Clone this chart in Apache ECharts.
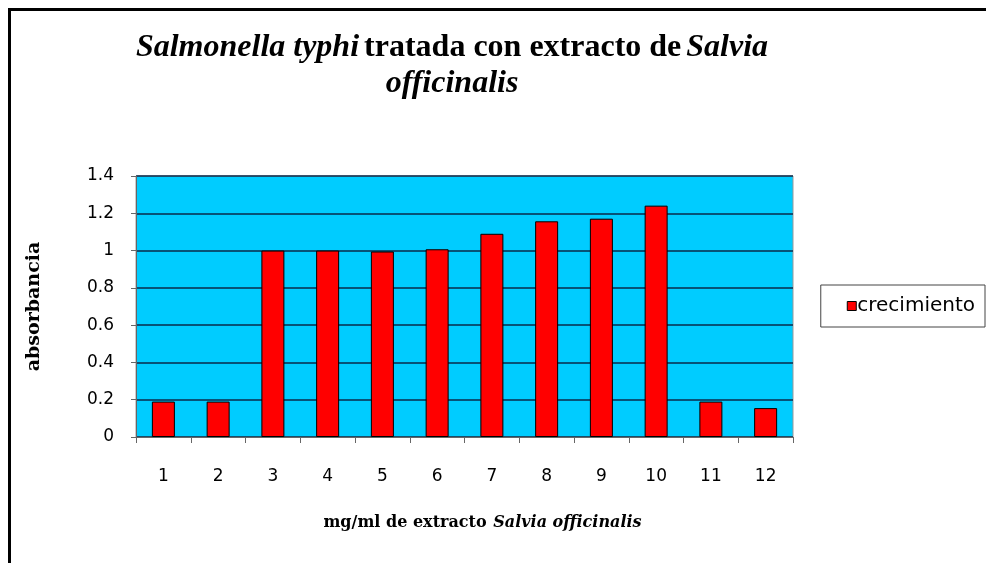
<!DOCTYPE html>
<html>
<head>
<meta charset="utf-8">
<script src="https://cdn.jsdelivr.net/npm/echarts@6/dist/echarts.min.js"></script>
<style>
html,body{margin:0;padding:0;background:#fff;}
#frame{position:absolute;left:8px;top:8px;width:978px;height:555px;border-left:3px solid #000;border-top:3px solid #000;box-sizing:border-box;}
#chart{position:absolute;left:0;top:0;width:986px;height:563px;}
</style>
</head>
<body>
<div id="frame"></div>
<div id="chart"></div>
<script>
const categories = ['1','2','3','4','5','6','7','8','9','10','11','12'];
const crecimiento = [0.19, 0.19, 1.0, 1.0, 0.995, 1.007, 1.09, 1.157, 1.171, 1.241, 0.19, 0.155];
const yTicks = [0, 0.2, 0.4, 0.6, 0.8, 1, 1.2, 1.4];
const seriesName = 'crecimiento';

const chart = echarts.init(document.getElementById('chart'), null, {renderer: 'canvas'});
chart.setOption({
  backgroundColor: 'transparent',
  animation: false,
  title: {
    text: '{i|Salmonella typhi} {b|tratada con extracto de} {i|Salvia}\n{i|officinalis}',
    left: 447, top: 25, textAlign: 'center',
    textStyle: {
      rich: {
        i: {fontFamily: 'Liberation Serif', fontStyle: 'italic', fontSize: 32, color: '#000', lineHeight: 36},
        b: {fontFamily: 'Liberation Serif', fontWeight: 'bold', fontSize: 32, color: '#000', lineHeight: 36}
      }
    }
  },
  legend: {
    show: true,
    right: 1, top: 285,
    orient: 'vertical',
    padding: [11, 10, 11, 26],
    borderColor: '#444', borderWidth: 1,
    itemWidth: 9, itemHeight: 9, itemGap: 0,
    icon: 'rect',
    textStyle: {fontFamily: 'DejaVu Sans', fontSize: 20, color: '#000', padding: [0,0,0,-4]},
    data: [{name: seriesName, itemStyle: {color: '#ff0000', borderColor: '#000', borderWidth: 1}}]
  },
  grid: {left: 136, right: 193, top: 176, bottom: 126, show: true, backgroundColor: '#00ccff', borderColor: '#999', borderWidth: 1, containLabel: false},
  xAxis: {
    type: 'category', data: categories, boundaryGap: true,
    name: '{b|mg/ml de extracto}  {i|Salvia officinalis}',
    nameLocation: 'middle', nameGap: 78,
    nameTextStyle: {
      padding: [0, 0, 0, 36],
      rich: {
        b: {fontFamily: 'DejaVu Serif', fontWeight: 'bold', fontSize: 16, color: '#000'},
        i: {fontFamily: 'DejaVu Serif', fontWeight: 'bold', fontStyle: 'italic', fontSize: 16, color: '#000'}
      }
    },
    axisLine: {lineStyle: {color: '#666', width: 1}},
    axisTick: {show: true, alignWithLabel: false, length: 6, lineStyle: {color: '#666'}},
    axisLabel: {fontFamily: 'DejaVu Sans', fontSize: 17, color: '#000', margin: 31}
  },
  yAxis: {
    type: 'value', min: 0, max: 1.4, interval: 0.2,
    name: 'absorbancia', nameLocation: 'middle', nameGap: 92, nameRotate: 90,
    nameTextStyle: {fontFamily: 'DejaVu Serif', fontWeight: 'bold', fontSize: 19, color: '#000'},
    axisLine: {show: true, lineStyle: {color: '#666'}},
    axisTick: {show: true, length: 5, lineStyle: {color: '#666'}},
    splitLine: {show: true, lineStyle: {color: '#0a2a4a', width: 1.5}},
    axisLabel: {fontFamily: 'DejaVu Sans', fontSize: 17, color: '#000', margin: 22,
      formatter: v => String(Math.round(v*10)/10)}
  },
  series: [{
    name: seriesName, type: 'bar', data: crecimiento, barWidth: 23,
    itemStyle: {color: '#ff0000', borderColor: '#000', borderWidth: 1}
  }]
});
</script>
</body>
</html>
